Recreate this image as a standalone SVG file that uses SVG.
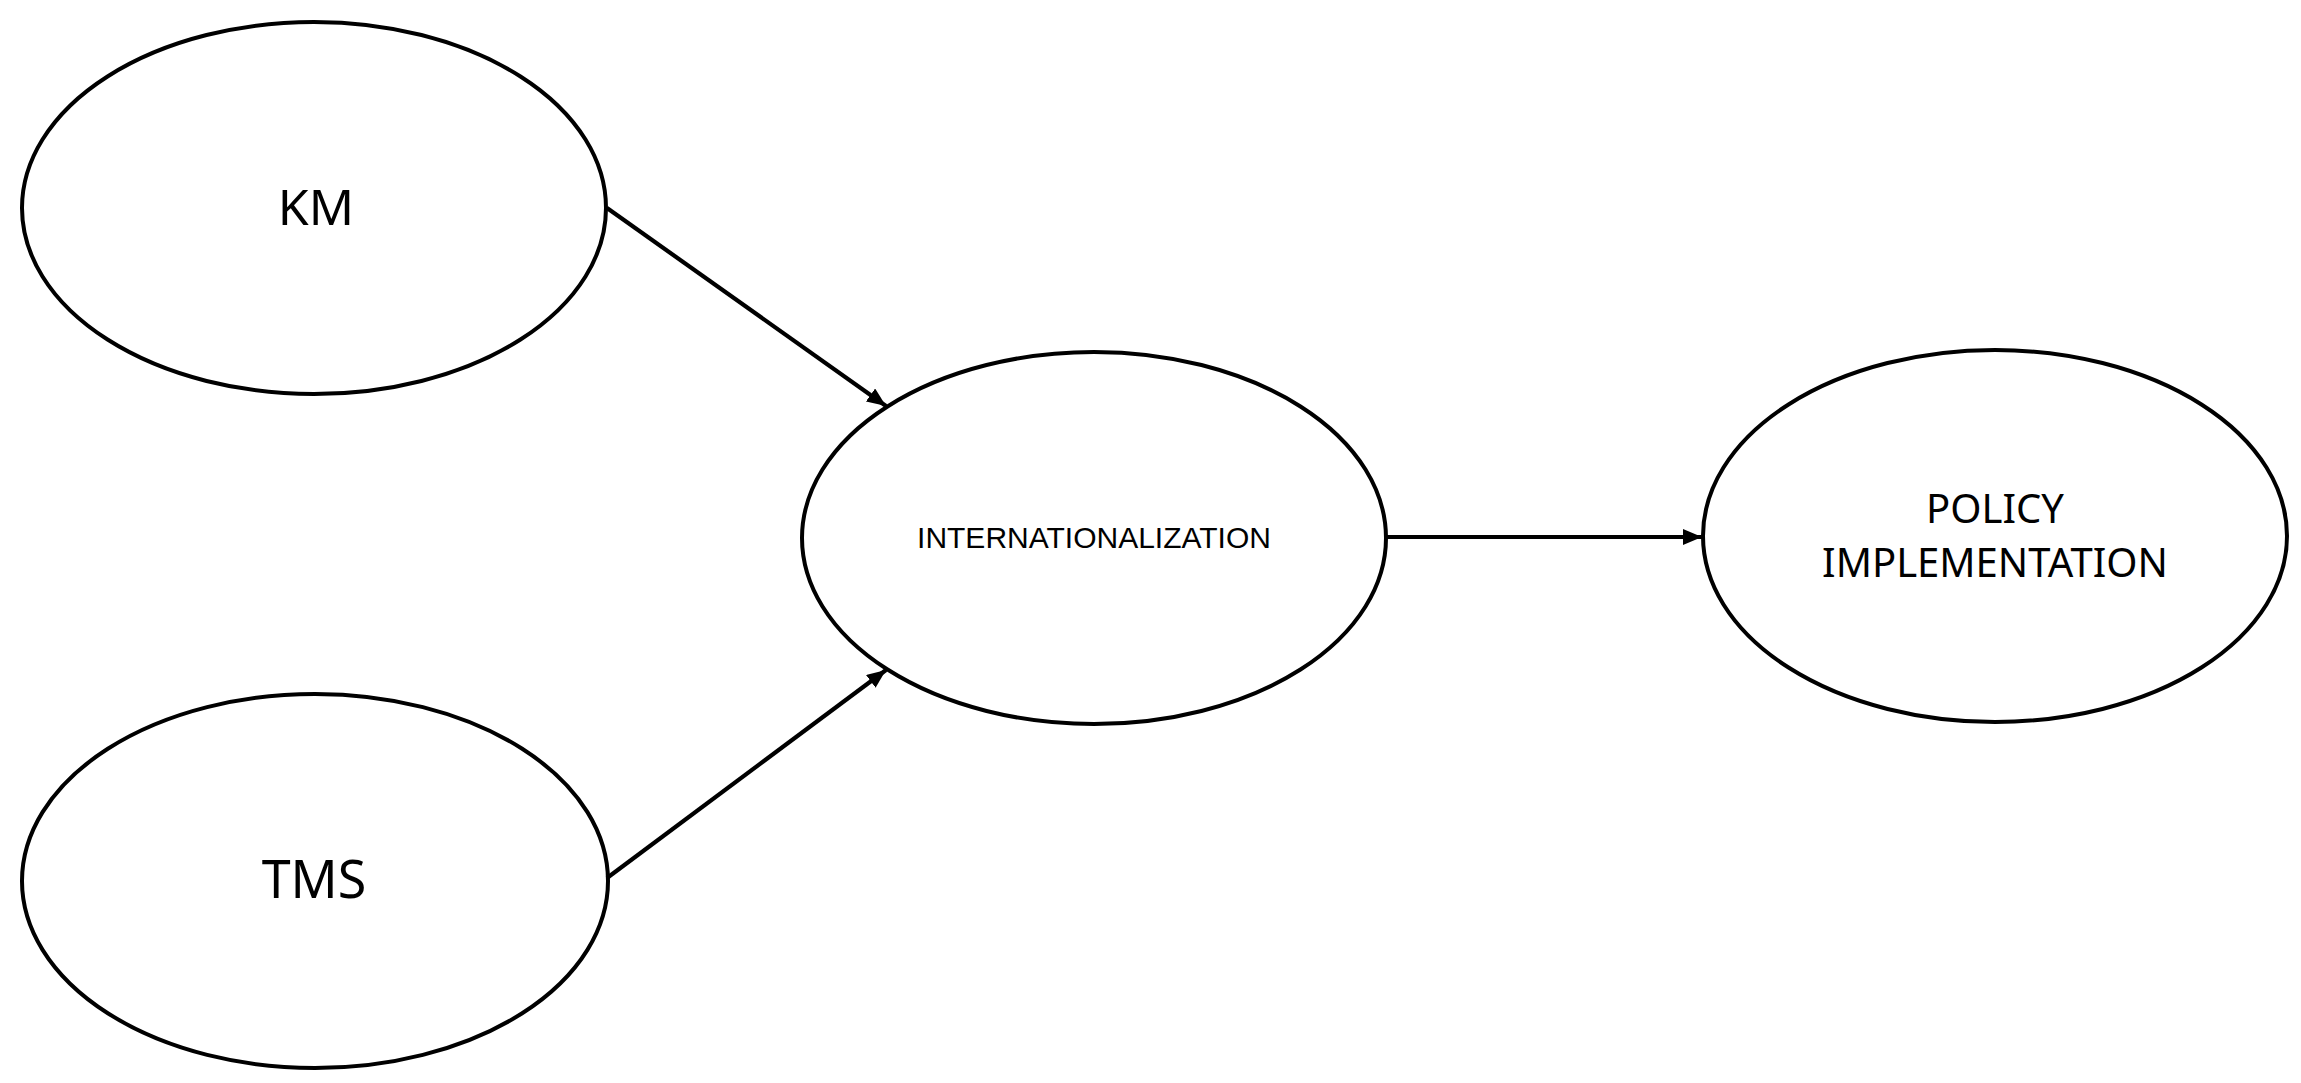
<svg xmlns="http://www.w3.org/2000/svg" width="2301" height="1083" viewBox="0 0 2301 1083">
<style>
.node ellipse{fill:#fff;stroke:#000;stroke-width:4}
.lbl{font-family:"Noto Sans","Open Sans","DejaVu Sans",sans-serif;fill:#000;text-anchor:middle}
.lbl2{font-family:"Liberation Sans",Arial,sans-serif;fill:#000;text-anchor:middle}
.edge{stroke:#000;stroke-width:4.2;fill:none;marker-end:url(#ah)}
</style>
<defs>
<marker id="ah" markerUnits="userSpaceOnUse" markerWidth="20" markerHeight="16" refX="19" refY="8" orient="auto">
<path d="M0,0 L19,8 L0,16 z" fill="#000"/>
</marker>
</defs>
<rect width="2301" height="1083" fill="#fff"/>
<g id="km" class="node">
<ellipse cx="314" cy="208" rx="292" ry="186"/>
<text class="lbl" x="316" y="225" font-size="50">KM</text>
</g>
<g id="tms" class="node">
<ellipse cx="315" cy="881" rx="293" ry="187"/>
<text class="lbl" x="314" y="898" font-size="52">TMS</text>
</g>
<g id="internationalization" class="node">
<ellipse cx="1094" cy="538" rx="292" ry="186"/>
<text class="lbl2" x="1094" y="548" font-size="30">INTERNATIONALIZATION</text>
</g>
<g id="policy" class="node">
<ellipse cx="1995" cy="536" rx="292" ry="186"/>
<text class="lbl" x="1995" y="523" font-size="40">POLICY</text>
<text class="lbl" x="1995" y="577" font-size="40">IMPLEMENTATION</text>
</g>
<g id="connectors">
<line class="edge" x1="607" y1="208" x2="886" y2="406"/>
<line class="edge" x1="607" y1="878" x2="886" y2="670"/>
<line class="edge" x1="1387" y1="537" x2="1702" y2="537"/>
</g>
</svg>
